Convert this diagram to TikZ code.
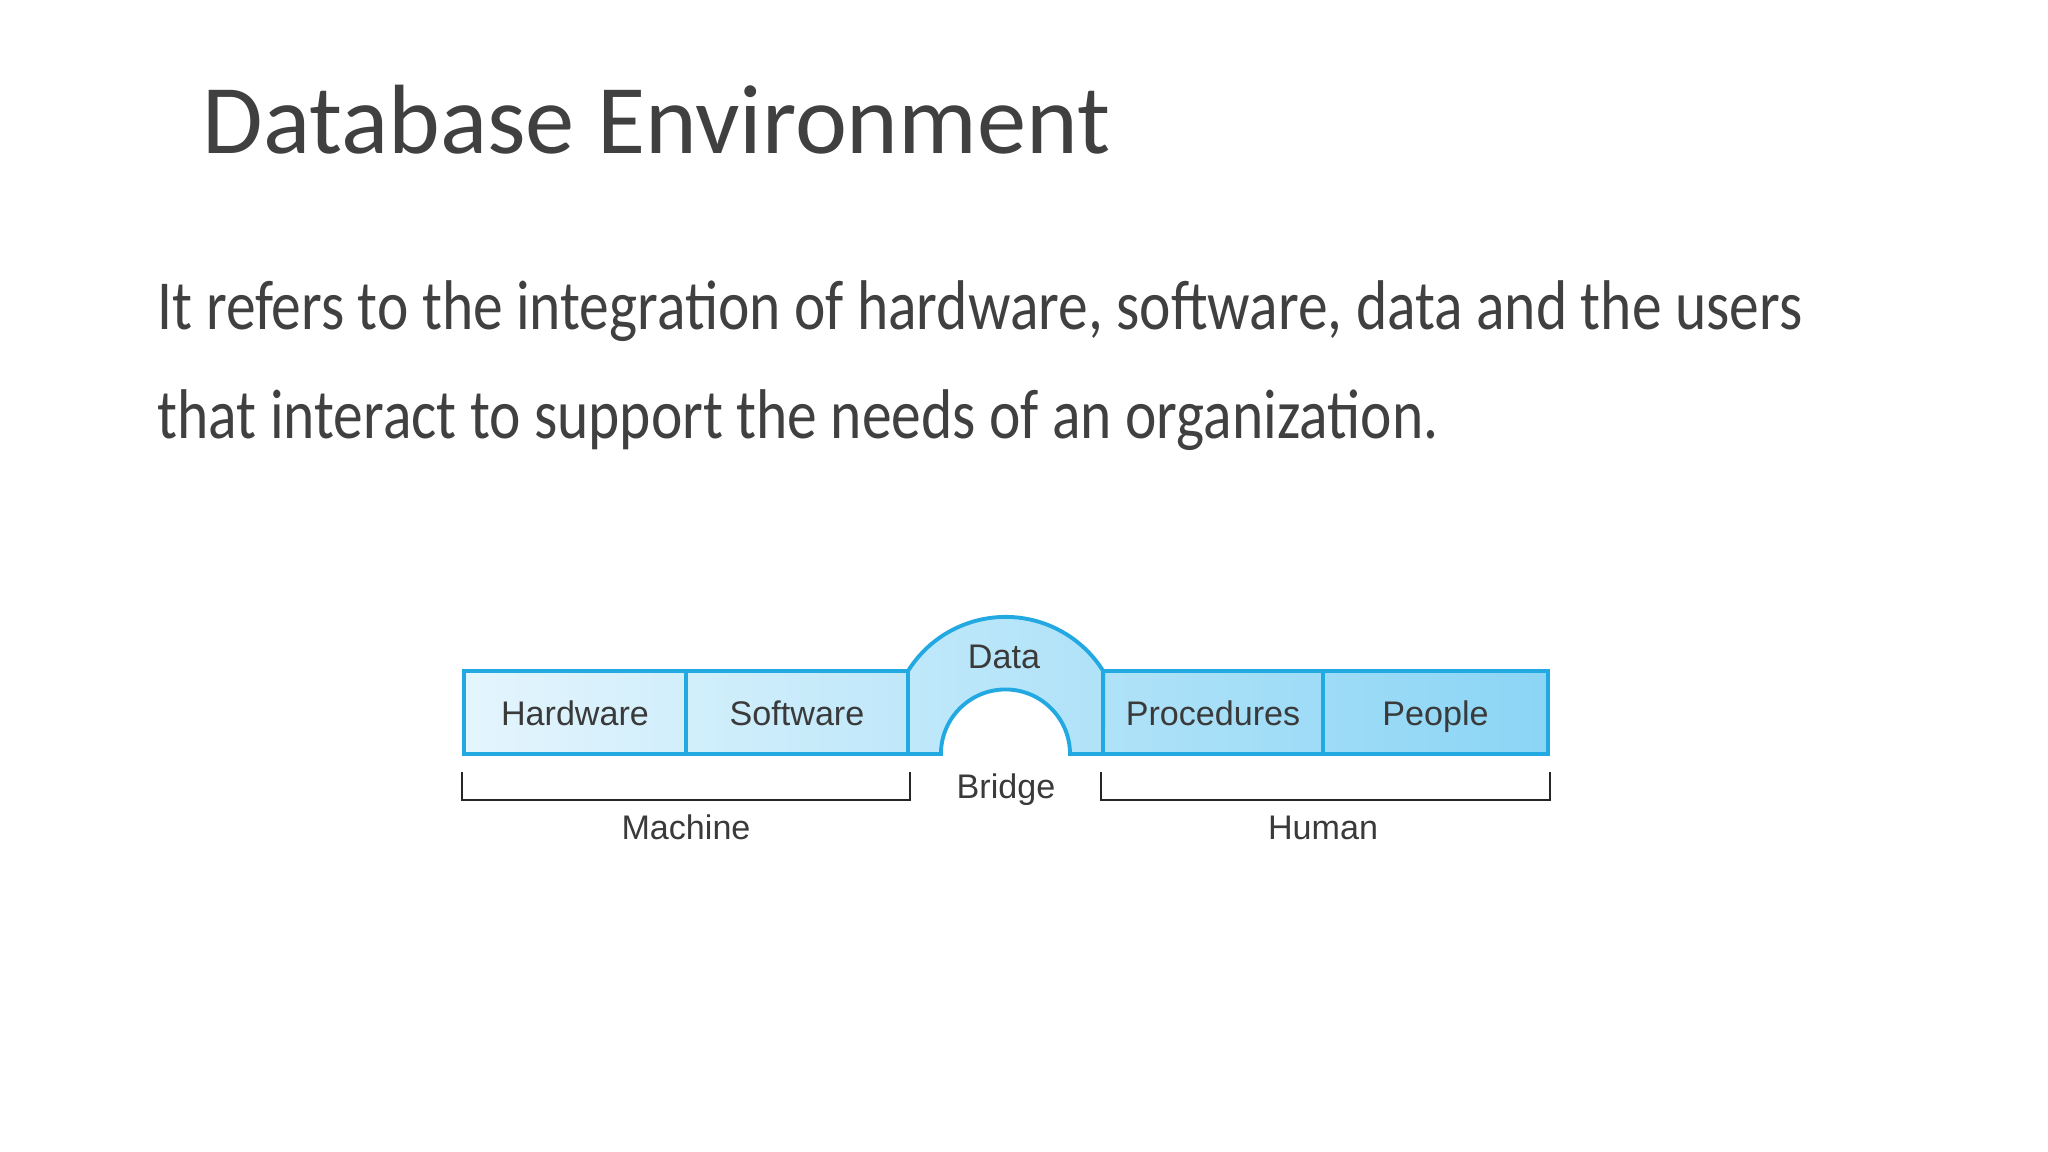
\documentclass[tikz,border=0pt]{standalone}
\usepackage{fontspec}
\setmainfont{Carlito}
\newfontfamily\diagfont{Liberation Sans}
\definecolor{titlegray}{HTML}{404040}
\definecolor{edgeblue}{HTML}{22A9E2}
\definecolor{boxleft}{HTML}{E4F5FD}
\definecolor{boxright}{HTML}{8BD5F5}
\definecolor{labelgray}{HTML}{3A3A3A}

\begin{document}
\begin{tikzpicture}[x=0.01cm, y=0.01cm,
	box/.style={draw=edgeblue, line width=1.1pt, minimum height=0.83cm, inner sep=0pt, text=labelgray, text height=0.95em, text depth=0.22em, font=\diagfont\fontsize{9.7}{11}\selectfont},
	tag/.style={text=labelgray, text height=0.95em, text depth=0.22em, font=\diagfont\fontsize{9.7}{11}\selectfont, inner sep=0pt},
	bracket/.style={draw=black!85, line width=0.8pt},
	slidetext/.style={anchor=base west, inner sep=0pt, text=titlegray}]
	\useasboundingbox[fill=white] (0,0) rectangle (2048,1152);
	% Paths, nodes and wires:
	\node[slidetext, font=\fontsize{28}{34}\selectfont] (title) at (202,998) {Database Environment};
	\node[slidetext, font=\fontsize{20}{24}\selectfont] (line1) at (157,822) {\scalebox{0.846}[1]{It refers to the integration of hardware, software, data and the users}};
	\node[slidetext, font=\fontsize{20}{24}\selectfont] (line2) at (157,713) {\scalebox{0.846}[1]{that interact to support the needs of an organization.}};
	\shade[left color=boxleft, right color=boxright] (464,398) -- (464,481) -- (908,481) arc[start angle=148, end angle=32, radius=1.15cm] -- (1548,481) -- (1548,398) -- (1070,398) arc[start angle=0, end angle=180, radius=0.645cm] -- cycle;
	\draw[edgeblue, line width=1.1pt] (908,398) -- (908,481) arc[start angle=148, end angle=32, radius=1.15cm] -- (1103,398) -- (1070,398) arc[start angle=0, end angle=180, radius=0.645cm] -- cycle;
	\node[box, minimum width=2.22cm] (hw) at (575,439.5) {Hardware};
	\node[box, minimum width=2.22cm] (sw) at (797,439.5) {Software};
	\node[box, minimum width=2.20cm] (pr) at (1213,439.5) {Procedures};
	\node[box, minimum width=2.25cm] (pe) at (1435.5,439.5) {People};
	\node[tag] (data) at (1004,496) {Data};
	\node[tag] (bridge) at (1006,366) {Bridge};
	\draw[bracket] ([yshift=-1.6mm]hw.south west) |- ([yshift=-4.4mm]sw.south east) -- ([yshift=-1.6mm]sw.south east);
	\draw[bracket] ([yshift=-1.6mm]pr.south west) |- ([yshift=-4.4mm]pe.south east) -- ([yshift=-1.6mm]pe.south east);
	\node[tag] (machine) at (686,325) {Machine};
	\node[tag] (human) at (1323,325) {Human};
\end{tikzpicture}
\end{document}
